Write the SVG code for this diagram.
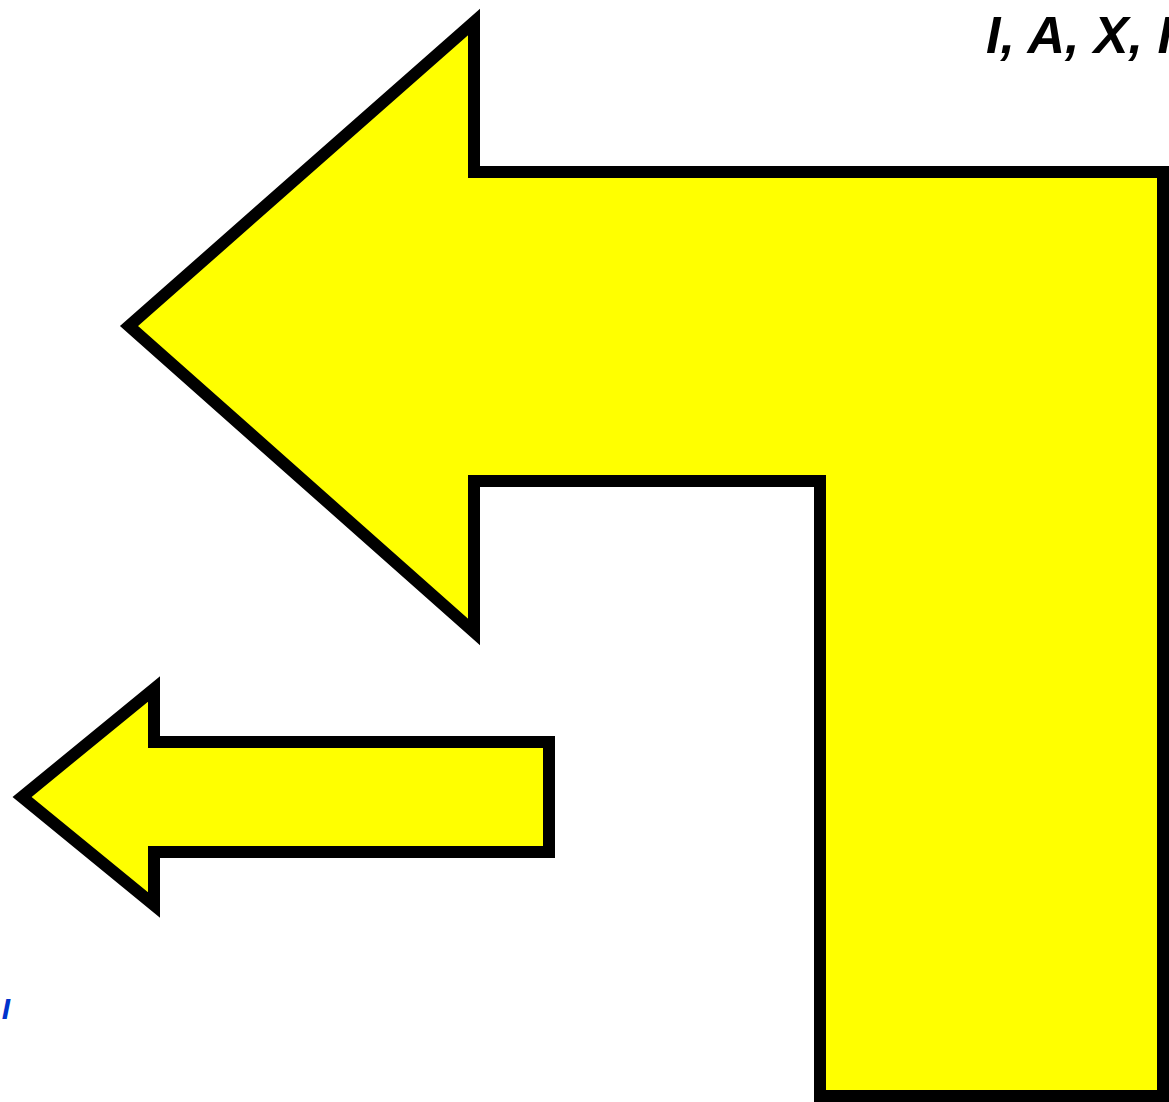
<svg xmlns="http://www.w3.org/2000/svg" width="1169" height="1102" viewBox="0 0 1169 1102">
<style>
.arrow{fill:#ffff00;stroke:#000;stroke-width:12;stroke-linejoin:miter;stroke-miterlimit:10}
.lbl{font-family:"Liberation Sans",Arial,sans-serif;font-weight:bold;font-style:italic}
</style>
<rect width="1169" height="1102" fill="#fff"/>
<g id="connectors">
<polygon id="big-arrow" class="arrow" points="474,22 474,172 1163,172 1163,1096 820,1096 820,481 474,481 474,632 129,326"/>
<polygon id="small-arrow" class="arrow" points="154,689 154,742 549,742 549,852 154,852 154,905 22,797"/>
</g>
<g id="label-top">
<text class="lbl" x="986" y="53" font-size="52" fill="#000">I, A, X, I</text>
</g>
<g id="label-bottom">
<text class="lbl" x="10" y="1019" font-size="30" fill="#0033cc" text-anchor="end">I</text>
</g>
</svg>
